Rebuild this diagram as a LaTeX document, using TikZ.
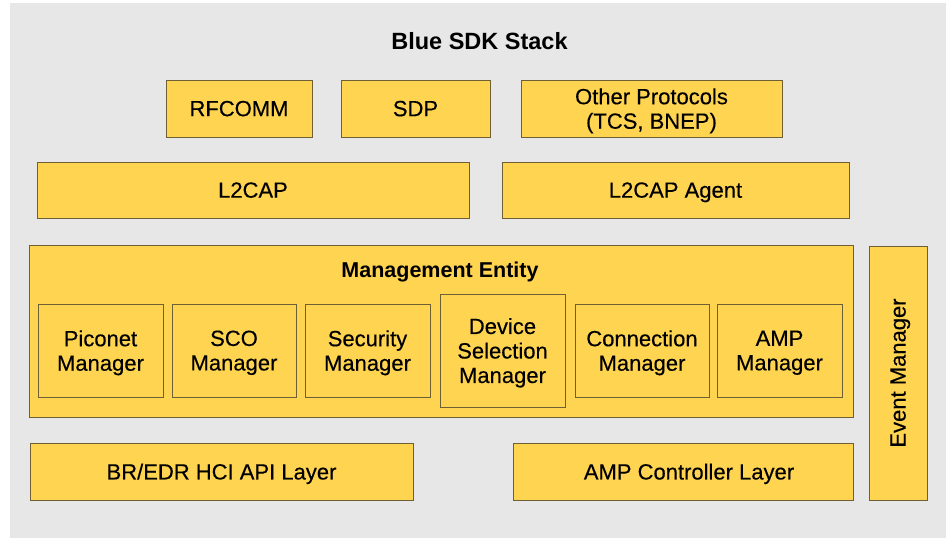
\documentclass[tikz,border=0pt]{standalone}
\usepackage{fontspec}
\setmainfont{Liberation Sans}
\newfontfamily\boxfont[FakeBold=0.3]{Liberation Sans}
\definecolor{panelgray}{HTML}{E7E7E7}
\definecolor{boxfill}{HTML}{FFD451}
\definecolor{boxline}{HTML}{6E5F35}
\tikzset{
  layer/.style={draw=boxline,fill=boxfill,line width=0.9pt,inner sep=0pt,align=center,
    text depth=0pt,font=\boxfont\fontsize{22}{24.5}\selectfont},
  title/.style={font=\fontsize{23.5}{24.5}\selectfont\bfseries}
}
\begin{document}
\begin{tikzpicture}[x=1pt,y=-1pt]
    \useasboundingbox (0,0) rectangle (949,538);
    \fill [panelgray] (10,3) rectangle (946,538);
    \node[title] (stack) at (479.5,41) {Blue SDK Stack};
    % protocols
    \node[layer,minimum width=146,minimum height=57] (rfcomm) at (239,108.5) {RFCOMM};
    \node[layer,minimum width=149,minimum height=57] (sdp) at (415.5,108.5) {SDP};
    \node[layer,minimum width=261,minimum height=57] (other) at (651.5,108.5) {Other Protocols\\(TCS, BNEP)};
    \node[layer,minimum width=432,minimum height=56] (l2cap) at (253,190) {L2CAP};
    \node[layer,minimum width=347,minimum height=56] (agent) at (675.5,190) {L2CAP Agent};
    % management entity
    \node[layer,minimum width=824,minimum height=172] (mgmt) at (441,331) {};
    \node[title,font=\fontsize{21.5}{24.5}\selectfont\bfseries] (mgmttitle) at (440,272) {Management Entity};
    \node[layer,minimum width=125,minimum height=93] (piconet) at (100.5,350.5) {Piconet\\Manager};
    \node[layer,minimum width=124,minimum height=93] (sco) at (234,350.5) {SCO\\Manager};
    \node[layer,minimum width=125,minimum height=93] (security) at (367.5,350.5) {Security\\Manager};
    \node[layer,minimum width=125,minimum height=113] (device) at (502.5,350.5) {Device\\Selection\\Manager};
    \node[layer,minimum width=134,minimum height=93] (connection) at (642,350.5) {Connection\\Manager};
    \node[layer,minimum width=125,minimum height=93] (ampmgr) at (779.5,350.5) {AMP\\Manager};
    \node[layer,rotate=90,minimum width=254,minimum height=58] (event) at (898,373) {Event Manager};
    % bottom layers
    \node[layer,minimum width=383,minimum height=57] (bredr) at (221.5,471.5) {BR/EDR HCI API Layer};
    \node[layer,minimum width=340,minimum height=57] (ampctl) at (683,471.5) {\hspace*{12pt}AMP Controller Layer};
\end{tikzpicture}
\end{document}
